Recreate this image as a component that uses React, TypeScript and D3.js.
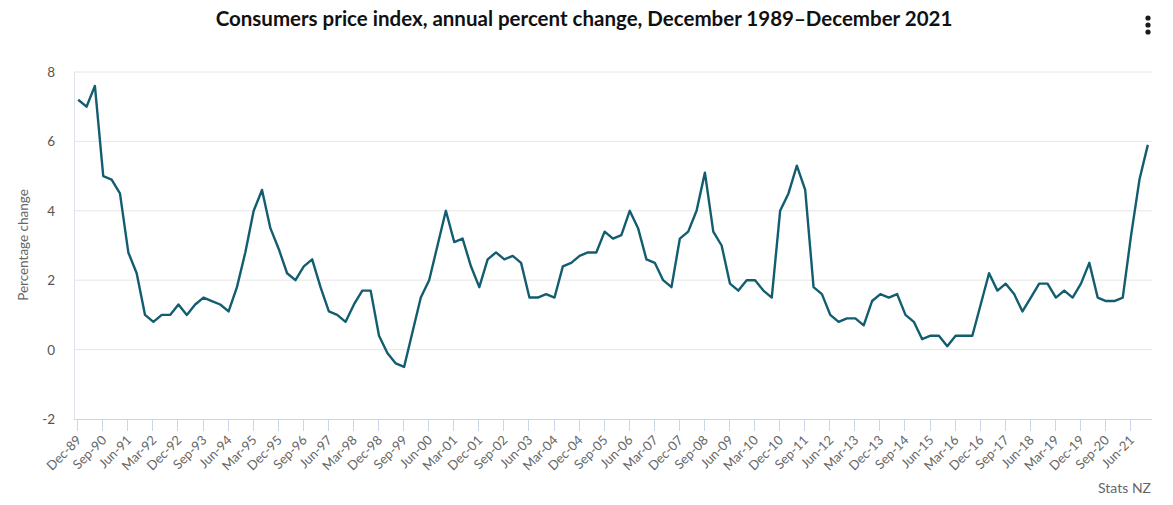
import { useRef, useEffect } from 'react';
import * as d3 from 'd3';

const months = ['Dec', 'Mar', 'Jun', 'Sep'];
const startYear = 1989;

// annual % change, one row per year (Dec-89, then Mar..Dec of each year)
const cpiChange: number[] = [
  7.2,
  7.0, 7.6, 5.0, 4.9, // 1990
  4.5, 2.8, 2.2, 1.0, // 1991
  0.8, 1.0, 1.0, 1.3, // 1992
  1.0, 1.3, 1.5, 1.4, // 1993
  1.3, 1.1, 1.8, 2.8, // 1994
  4.0, 4.6, 3.5, 2.9, // 1995
  2.2, 2.0, 2.4, 2.6, // 1996
  1.8, 1.1, 1.0, 0.8, // 1997
  1.3, 1.7, 1.7, 0.4, // 1998
  -0.1, -0.4, -0.5, 0.5, // 1999
  1.5, 2.0, 3.0, 4.0, // 2000
  3.1, 3.2, 2.4, 1.8, // 2001
  2.6, 2.8, 2.6, 2.7, // 2002
  2.5, 1.5, 1.5, 1.6, // 2003
  1.5, 2.4, 2.5, 2.7, // 2004
  2.8, 2.8, 3.4, 3.2, // 2005
  3.3, 4.0, 3.5, 2.6, // 2006
  2.5, 2.0, 1.8, 3.2, // 2007
  3.4, 4.0, 5.1, 3.4, // 2008
  3.0, 1.9, 1.7, 2.0, // 2009
  2.0, 1.7, 1.5, 4.0, // 2010
  4.5, 5.3, 4.6, 1.8, // 2011
  1.6, 1.0, 0.8, 0.9, // 2012
  0.9, 0.7, 1.4, 1.6, // 2013
  1.5, 1.6, 1.0, 0.8, // 2014
  0.3, 0.4, 0.4, 0.1, // 2015
  0.4, 0.4, 0.4, 1.3, // 2016
  2.2, 1.7, 1.9, 1.6, // 2017
  1.1, 1.5, 1.9, 1.9, // 2018
  1.5, 1.7, 1.5, 1.9, // 2019
  2.5, 1.5, 1.4, 1.4, // 2020
  1.5, 3.3, 4.9, 5.9, // 2021
];

// quarter labels: Dec-89, Mar-90, Jun-90, ...
const quarters: string[] = cpiChange.map((_, i) => {
  const m = months[i % 4];
  const yr = startYear + Math.ceil(i / 4);
  return `${m}-${String(yr % 100).padStart(2, '0')}`;
});

const yTicks = [-2, 0, 2, 4, 6, 8];
const tickEvery = 3;

const title = 'Consumers price index, annual percent change, December 1989\u2013December 2021';

const CpiChart = () => {
  const svgRef = useRef<SVGSVGElement>(null);

  useEffect(() => {
    document.body.style.margin = '0';
    const width = 1173;
    const height = 505;
    const left = 74, right = 1152, top = 72, bottom = 419;
    const font = 'Lato, "Open Sans", sans-serif';

    const svg = d3.select(svgRef.current)
      .attr('width', width)
      .attr('height', height)
      .style('display', 'block')
      .style('font-family', font);
    svg.selectAll('*').remove();

    const x = d3.scaleBand<number>()
      .domain(d3.range(quarters.length))
      .range([left, right]);
    const cx = (i: number) => (x(i) ?? 0) + x.bandwidth() / 2;

    const y = d3.scaleLinear().domain([-2, 8]).range([bottom, top]);

    // title
    svg.append('text')
      .attr('x', 584)
      .attr('y', 26)
      .attr('text-anchor', 'middle')
      .attr('font-size', 20.5)
      .attr('font-weight', 700)
      .attr('fill', '#111')
      .text(title);

    // menu dots
    svg.selectAll('circle.menu')
      .data([18, 25, 32])
      .enter()
      .append('circle')
      .attr('class', 'menu')
      .attr('cx', 1148)
      .attr('cy', d => d)
      .attr('r', 2.6)
      .attr('fill', '#1a1a1a');

    // grid
    svg.selectAll('line.grid')
      .data(yTicks.filter(d => d !== -2))
      .enter()
      .append('line')
      .attr('class', 'grid')
      .attr('x1', left)
      .attr('x2', right)
      .attr('y1', d => y(d))
      .attr('y2', d => y(d))
      .attr('stroke', '#e6e6e6');

    // y axis line
    svg.append('line')
      .attr('x1', left + 0.5).attr('x2', left + 0.5)
      .attr('y1', top).attr('y2', bottom)
      .attr('stroke', '#dde2ec');

    // y labels
    svg.selectAll('text.ylab')
      .data(yTicks)
      .enter()
      .append('text')
      .attr('class', 'ylab')
      .attr('x', 55)
      .attr('y', d => y(d) + 5)
      .attr('text-anchor', 'end')
      .attr('font-size', 13.5)
      .attr('fill', '#555')
      .text(d => d);

    svg.append('text')
      .attr('transform', 'translate(28, 245) rotate(-90)')
      .attr('text-anchor', 'middle')
      .attr('font-size', 13.5)
      .attr('fill', '#666')
      .text('Percentage change');

    // x axis
    svg.append('line')
      .attr('x1', left).attr('x2', right)
      .attr('y1', bottom + 0.5).attr('y2', bottom + 0.5)
      .attr('stroke', '#ccd6eb');

    const tickIdx = d3.range(0, quarters.length, tickEvery);
    svg.selectAll('line.tick')
      .data(tickIdx)
      .enter()
      .append('line')
      .attr('class', 'tick')
      .attr('x1', d => Math.round(cx(d)) - 0.5)
      .attr('x2', d => Math.round(cx(d)) - 0.5)
      .attr('y1', bottom)
      .attr('y2', bottom + 12)
      .attr('stroke', '#ccd6eb');

    svg.selectAll('text.xlab')
      .data(tickIdx)
      .enter()
      .append('text')
      .attr('class', 'xlab')
      .attr('transform', d => `translate(${cx(d) + 4}, ${bottom + 22}) rotate(-45)`)
      .attr('text-anchor', 'end')
      .attr('font-size', 13)
      .attr('fill', '#666')
      .text(d => quarters[d]);

    // line
    const line = d3.line<number>()
      .x((_, i) => cx(i))
      .y(d => y(d));

    svg.append('path')
      .datum(cpiChange)
      .attr('d', line)
      .attr('fill', 'none')
      .attr('stroke', '#125d70')
      .attr('stroke-width', 2.4)
      .attr('stroke-linejoin', 'round');

    // credit
    svg.append('text')
      .attr('x', 1151)
      .attr('y', 493)
      .attr('text-anchor', 'end')
      .attr('font-size', 14)
      .attr('fill', '#666')
      .text('Stats NZ');
  }, []);

  return <svg ref={svgRef}></svg>;
};

export default function App() {
  return <CpiChart />;
}
